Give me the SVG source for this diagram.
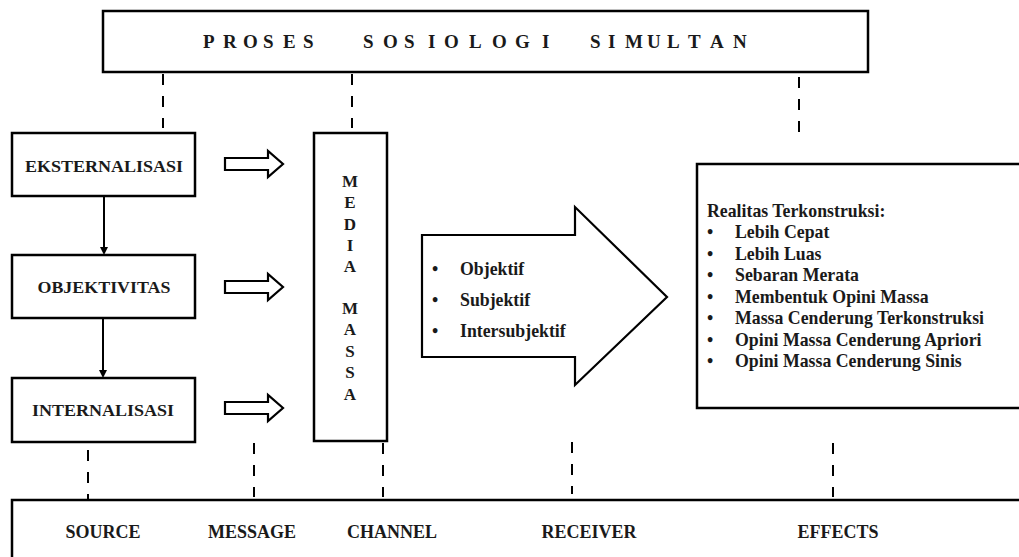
<svg xmlns="http://www.w3.org/2000/svg" width="1019" height="557" viewBox="0 0 1019 557">
<defs>
<style>
.box{fill:#fff;stroke:#000;stroke-width:2.5}
.t{font-family:"Liberation Serif","Times New Roman",serif;font-weight:bold;fill:#1a1a1a}
.dash{stroke:#000;stroke-width:2;stroke-dasharray:11 11;fill:none}
.blk{fill:#fff;stroke:#000;stroke-width:2.2;stroke-linejoin:miter}
.conn{stroke:#000;stroke-width:2;fill:none}
</style>
<marker id="ah" markerWidth="8" markerHeight="8" refX="6" refY="4" orient="auto" markerUnits="userSpaceOnUse">
<path d="M0,0 L8,4 L0,8 Z" fill="#000"/>
</marker>
</defs>
<rect width="1019" height="557" fill="#fff"/>

<g id="connectors">
<line class="dash" x1="163" y1="74" x2="163" y2="128"/>
<line class="dash" x1="352" y1="74" x2="352" y2="128"/>
<line class="dash" x1="799" y1="77" x2="799" y2="136"/>
<line class="dash" x1="88" y1="450" x2="88" y2="500"/>
<line class="dash" x1="254" y1="443" x2="254" y2="497"/>
<line class="dash" x1="383" y1="443" x2="383" y2="497"/>
<line class="dash" x1="572" y1="442" x2="572" y2="494"/>
<line class="dash" x1="833" y1="443" x2="833" y2="497"/>
<line class="conn" x1="104" y1="197" x2="104" y2="253" marker-end="url(#ah)"/>
<line class="conn" x1="103" y1="319" x2="103" y2="376" marker-end="url(#ah)"/>
<polygon class="blk" points="225,158 268,158 268,151 283,164 268,177 268,170 225,170"/>
<polygon class="blk" points="225,281 268,281 268,274 283,287 268,300 268,293 225,293"/>
<polygon class="blk" points="225,402 268,402 268,395 283,408 268,421 268,414 225,414"/>
</g>

<g id="top">
<rect class="box" x="103" y="11" width="765" height="61"/>
<text class="t" font-size="19" y="48"><tspan x="203">P</tspan><tspan x="223">R</tspan><tspan x="243">O</tspan><tspan x="263">S</tspan><tspan x="283">E</tspan><tspan x="303">S</tspan><tspan x="363">S</tspan><tspan x="383">O</tspan><tspan x="404">S</tspan><tspan x="428">I</tspan><tspan x="444">O</tspan><tspan x="469">L</tspan><tspan x="492">O</tspan><tspan x="515">G</tspan><tspan x="542">I</tspan><tspan x="590">S</tspan><tspan x="608">I</tspan><tspan x="625">M</tspan><tspan x="647">U</tspan><tspan x="667">L</tspan><tspan x="688">T</tspan><tspan x="710">A</tspan><tspan x="733">N</tspan></text>
</g>

<g id="eksternalisasi">
<rect class="box" x="12" y="133" width="183" height="63"/>
<text class="t" font-size="17" x="104" y="172" text-anchor="middle" textLength="158" lengthAdjust="spacingAndGlyphs">EKSTERNALISASI</text>
</g>
<g id="objektivitas">
<rect class="box" x="12" y="255" width="183" height="63"/>
<text class="t" font-size="17" x="104" y="293" text-anchor="middle" textLength="133" lengthAdjust="spacingAndGlyphs">OBJEKTIVITAS</text>
</g>
<g id="internalisasi">
<rect class="box" x="12" y="378" width="183" height="64"/>
<text class="t" font-size="17" x="103" y="416" text-anchor="middle" textLength="142" lengthAdjust="spacingAndGlyphs">INTERNALISASI</text>
</g>

<g id="media-massa">
<rect class="box" x="314" y="133" width="73" height="308"/>
<g class="t" font-size="17" text-anchor="middle">
<text x="350" y="187">M</text>
<text x="350" y="208">E</text>
<text x="350" y="230">D</text>
<text x="350" y="251">I</text>
<text x="350" y="272">A</text>
<text x="350" y="314">M</text>
<text x="350" y="335">A</text>
<text x="350" y="357">S</text>
<text x="350" y="378">S</text>
<text x="350" y="400">A</text>
</g>
</g>

<g id="receiver-arrow">
<polygon class="blk" points="422,235 575,235 575,207 667,297 575,385 575,357 422,357"/>
<g class="t" font-size="17.8">
<text x="432" y="275">•</text><text x="460" y="275">Objektif</text>
<text x="432" y="306">•</text><text x="460" y="306">Subjektif</text>
<text x="432" y="337">•</text><text x="460" y="337">Intersubjektif</text>
</g>
</g>

<g id="effects-box">
<rect class="box" x="697" y="164" width="330" height="244"/>
<g class="t" font-size="17.8">
<text x="707" y="217">Realitas Terkonstruksi:</text>
<text x="707" y="238">•</text><text x="735" y="238">Lebih Cepat</text>
<text x="707" y="260">•</text><text x="735" y="260">Lebih Luas</text>
<text x="707" y="281">•</text><text x="735" y="281">Sebaran Merata</text>
<text x="707" y="303">•</text><text x="735" y="303">Membentuk Opini Massa</text>
<text x="707" y="324">•</text><text x="735" y="324">Massa Cenderung Terkonstruksi</text>
<text x="707" y="346">•</text><text x="735" y="346">Opini Massa Cenderung Apriori</text>
<text x="707" y="367">•</text><text x="735" y="367">Opini Massa Cenderung Sinis</text>
</g>
</g>

<g id="bottom">
<rect class="box" x="12" y="500" width="1020" height="80"/>
<g class="t" font-size="18" text-anchor="middle">
<text x="103" y="538">SOURCE</text>
<text x="252" y="538">MESSAGE</text>
<text x="392" y="538">CHANNEL</text>
<text x="589" y="538">RECEIVER</text>
<text x="838" y="538">EFFECTS</text>
</g>
</g>
</svg>
